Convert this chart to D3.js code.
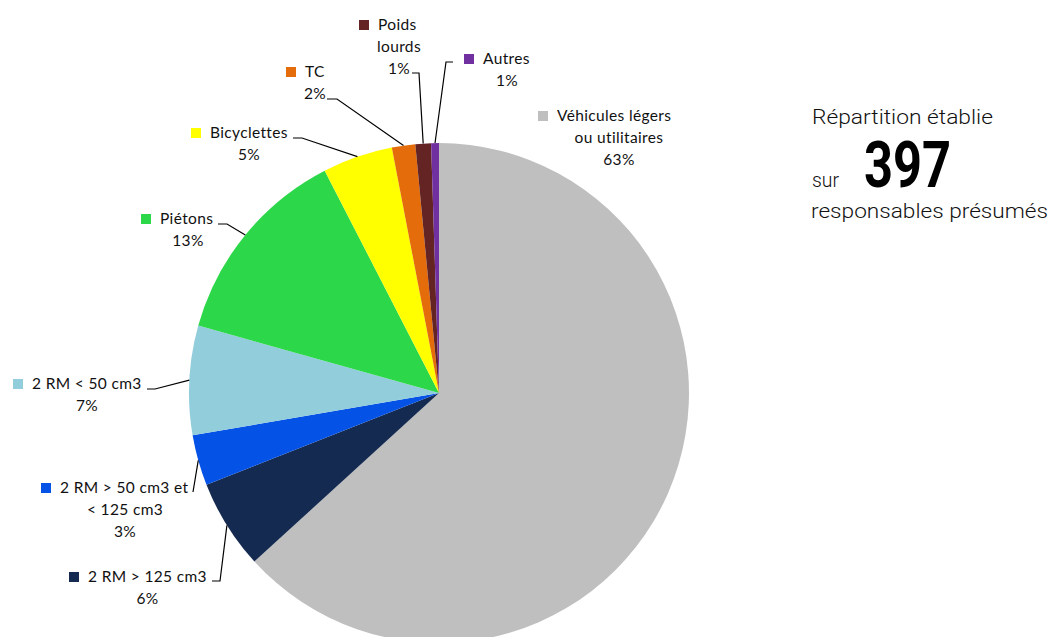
<!DOCTYPE html>
<html><head><meta charset="utf-8">
<script src="https://cdn.jsdelivr.net/npm/d3@7"></script>
<style>html,body{margin:0;padding:0;background:#fff;}svg{display:block;}</style>
</head><body>
<svg id="chart" width="1051" height="637"></svg>
<script>
// ---- data ----
const categories = ["Véhicules légers ou utilitaires", "2 RM > 125 cm3", "2 RM > 50 cm3 et < 125 cm3", "2 RM < 50 cm3", "Piétons", "Bicyclettes", "TC", "Poids lourds", "Autres"];
const labelLines = [["Véhicules légers", "ou utilitaires"], ["2 RM > 125 cm3"], ["2 RM > 50 cm3 et", "< 125 cm3"], ["2 RM < 50 cm3"], ["Piétons"], ["Bicyclettes"], ["TC"], ["Poids", "lourds"], ["Autres"]];
const counts = [251, 23, 13, 28, 52, 18, 6, 4, 2];
const colors = ["#BFBFBF", "#142A50", "#0452E6", "#92CDDC", "#2CD84A", "#FFFF00", "#E46C0A", "#632423", "#7030A0"];
const totalLabel = ["Répartition établie", "sur", "397", "responsables présumés"];

// ---- layout (positions of labels) ----
const layout = [
  {tx: 557, ty: 116, cx: 619, pts: null},
  {tx: 88, ty: 577, cx: 147.5, pts: [[220, 581], [212, 581]]},
  {tx: 60, ty: 488, cx: 125, pts: [[193, 492]]},
  {tx: 32, ty: 384, cx: 87, pts: [[155, 389], [147, 389]]},
  {tx: 160, ty: 219, cx: 188, pts: [[227, 224], [218, 224]]},
  {tx: 210, ty: 133, cx: 249, pts: [[302, 138], [293, 138]]},
  {tx: 305, ty: 72, cx: 315, pts: [[337, 99], [327, 99]]},
  {tx: 378, ty: 25, cx: 399, pts: [[419, 73], [412, 73]]},
  {tx: 483, ty: 59, cx: 507, pts: [[446, 62], [453, 62]]}
];

const svg = d3.select("#chart");
const cx = 439, cy = 393, R = 250;
const total = d3.sum(counts);
const pct = d3.format(".0%");

const pie = d3.pie().sort(null).value(d => d)(counts);
const arc = d3.arc().innerRadius(0).outerRadius(R);
const edge = d3.arc().innerRadius(R).outerRadius(R);

const g = svg.append("g").attr("transform", `translate(${cx},${cy})`);
g.selectAll("path.slice").data(pie).join("path")
  .attr("class", "slice")
  .attr("d", arc)
  .attr("fill", (d, i) => colors[i]);

// leader lines
const line = d3.line();
pie.forEach((d, i) => {
  const L = layout[i];
  if (!L.pts) return;
  const c = edge.centroid(d);
  const p = [[c[0] + cx, c[1] + cy], ...L.pts];
  svg.append("path").attr("d", line(p)).attr("fill", "none")
    .attr("stroke", "#000").attr("stroke-width", 1.2);
});

// labels
const fontFam = "Lato, 'Open Sans', sans-serif";
pie.forEach((d, i) => {
  const L = layout[i];
  const lines = labelLines[i].concat([pct(counts[i] / total)]);
  svg.append("rect").attr("x", L.tx - 19).attr("y", L.ty - 5)
    .attr("width", 10).attr("height", 10).attr("fill", colors[i]);
  lines.forEach((t, k) => {
    const txt = svg.append("text")
      .attr("y", L.ty + k * 22)
      .attr("dy", "0.35em")
      .attr("font-family", fontFam)
      .attr("font-size", 15.5)
      .attr("letter-spacing", 0.35)
      .attr("fill", "#111")
      .text(t);
    if (k === 0) txt.attr("x", L.tx);
    else txt.attr("x", L.cx).attr("text-anchor", "middle");
  });
});

// right text block
const narrow = "Roboto, 'Liberation Sans', sans-serif";
svg.append("text").attr("x", 812).attr("y", 124)
  .attr("font-family", narrow).attr("font-size", 21).attr("font-weight", 300).attr("fill", "#111")
  .attr("textLength", 181).attr("lengthAdjust", "spacingAndGlyphs")
  .text(totalLabel[0]);
svg.append("text").attr("x", 812).attr("y", 187)
  .attr("font-family", narrow).attr("font-size", 21).attr("font-weight", 300).attr("fill", "#111")
  .attr("textLength", 27).attr("lengthAdjust", "spacingAndGlyphs")
  .text(totalLabel[1]);
svg.append("text").attr("x", 864).attr("y", 187)
  .attr("font-family", narrow).attr("font-size", 64).attr("font-weight", "bold").attr("fill", "#000")
  .attr("textLength", 87).attr("lengthAdjust", "spacingAndGlyphs")
  .text(totalLabel[2]);
svg.append("text").attr("x", 811).attr("y", 218)
  .attr("font-family", narrow).attr("font-size", 21).attr("font-weight", 300).attr("fill", "#111")
  .attr("textLength", 237).attr("lengthAdjust", "spacingAndGlyphs")
  .text(totalLabel[3]);
</script>
</body></html>
